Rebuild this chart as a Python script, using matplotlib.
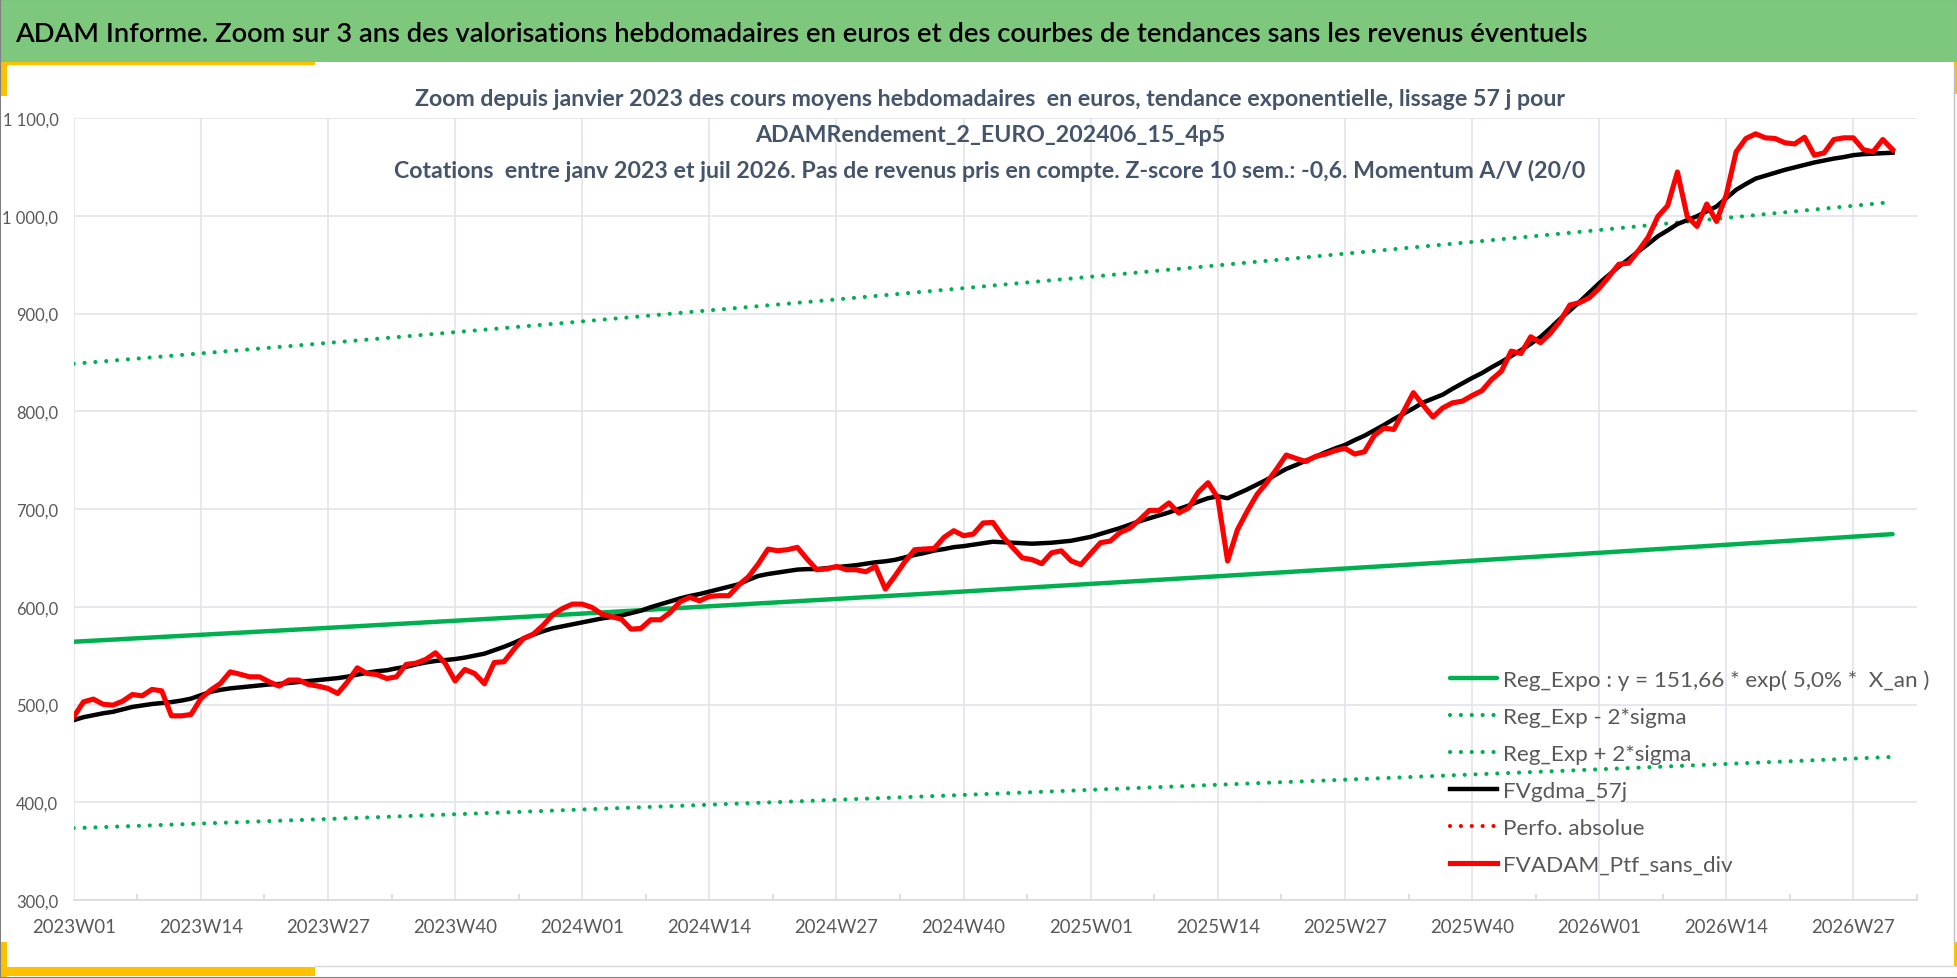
import matplotlib
matplotlib.use("Agg")
import matplotlib.pyplot as plt
from matplotlib import font_manager
from matplotlib.lines import Line2D
from matplotlib.patches import Rectangle

# ---------------- data ----------------
years_weeks = [(2023, 52), (2024, 52), (2025, 52), (2026, 31)]
weeks = [f"{y}W{w:02d}" for y, n in years_weeks for w in range(1, n + 1)]

tick_labels = ["2023W01", "2023W14", "2023W27", "2023W40", "2024W01", "2024W14",
               "2024W27", "2024W40", "2025W01", "2025W14", "2025W27", "2025W40",
               "2026W01", "2026W14", "2026W27"]

fvadam = [487.4, 502.7, 505.5, 500.3, 499.3, 503.4, 510.2, 508.9, 515.4, 514.0,
          488.4, 488.4, 489.8, 506.0, 514.7, 521.5, 533.4, 531.0, 528.3, 528.3,
          523.2, 518.8, 525.0, 525.0, 520.5, 518.8, 516.4, 511.3, 523.2, 537.5,
          531.7, 530.7, 526.6, 528.3, 541.0, 542.3, 546.1, 552.9, 542.0, 524.2,
          535.8, 531.7, 521.2, 543.0, 543.7, 556.3, 567.6, 572.0, 581.0, 592.0,
          598.3, 602.7, 602.7, 599.3, 592.5, 589.8, 587.4, 577.1, 577.8, 586.7,
          586.7, 594.2, 605.1, 609.6, 606.1, 610.6, 611.3, 611.3, 622.2, 630.7,
          643.7, 659.0, 657.3, 658.4, 660.8, 648.8, 637.9, 638.6, 641.3, 637.9,
          637.9, 635.8, 641.3, 618.1, 631.7, 646.1, 658.4, 659.0, 659.7, 671.0,
          677.8, 672.7, 674.4, 685.7, 686.3, 672.0, 660.8, 650.0, 648.2, 644.1,
          655.2, 657.2, 646.9, 643.1, 654.5, 665.5, 667.2, 675.9, 680.3, 689.0,
          698.6, 698.6, 706.2, 695.9, 701.0, 717.2, 726.9, 711.4, 646.9, 678.6,
          697.6, 714.8, 726.9, 740.7, 755.2, 751.7, 748.6, 753.8, 756.2, 759.7,
          762.1, 756.2, 758.6, 775.2, 782.8, 781.4, 800.0, 819.0, 806.2, 794.1,
          803.4, 808.6, 810.3, 816.0, 821.0, 832.5, 841.0, 861.5, 859.1, 876.2,
          870.1, 879.7, 892.3, 908.7, 911.1, 916.2, 925.8, 937.8, 950.4, 951.5,
          964.1, 977.8, 999.3, 1010.3, 1044.8, 999.3, 989.1, 1012.0, 994.2, 1021.5,
          1065.3, 1079.0, 1083.8, 1079.7, 1079.0, 1074.6, 1073.5, 1080.3, 1061.9, 1064.3,
          1078.0, 1079.7, 1079.7, 1067.7, 1065.3, 1078.0, 1067.7]

fvgdma = [484.0, 487.0, 489.0, 491.0, 492.5, 495.0, 497.5, 499.0, 500.5, 501.5,
          502.5, 504.0, 506.0, 509.5, 513.0, 515.0, 516.5, 517.5, 518.5, 519.5,
          520.5, 521.0, 522.0, 523.0, 524.0, 525.0, 526.0, 527.0, 528.5, 530.5,
          532.5, 534.0, 535.0, 537.0, 538.5, 541.0, 543.0, 544.5, 545.5, 546.5,
          548.0, 550.0, 552.0, 555.5, 559.0, 563.0, 567.5, 571.5, 575.0, 578.0,
          580.0, 582.0, 584.0, 586.0, 588.0, 589.5, 591.0, 593.5, 596.0, 599.5,
          602.5, 605.5, 608.5, 611.0, 613.0, 615.5, 618.0, 620.5, 623.0, 627.5,
          631.5, 633.5, 635.0, 636.5, 638.0, 638.5, 638.5, 639.5, 640.5, 641.5,
          642.5, 644.0, 645.5, 646.5, 648.0, 650.5, 653.0, 655.0, 657.5, 659.0,
          661.0, 662.0, 663.5, 665.0, 666.5, 666.0, 665.5, 665.0, 664.5, 665.0,
          665.5, 666.5, 667.5, 669.5, 671.5, 674.5, 677.5, 680.5, 684.0, 687.5,
          690.5, 693.5, 696.5, 700.0, 703.5, 707.5, 711.0, 713.0, 711.0, 715.5,
          720.0, 725.0, 730.0, 735.5, 741.0, 745.0, 749.5, 753.5, 758.0, 762.0,
          765.5, 770.5, 775.0, 780.5, 786.0, 792.0, 797.5, 803.0, 809.0, 813.0,
          817.0, 823.0, 828.5, 834.0, 839.0, 845.0, 850.5, 856.5, 862.5, 869.0,
          876.0, 885.0, 894.5, 903.0, 912.0, 921.5, 931.0, 939.5, 948.0, 955.5,
          963.5, 971.0, 979.0, 985.0, 991.5, 995.5, 999.5, 1004.5, 1009.5, 1018.0,
          1026.5, 1032.5, 1038.0, 1041.0, 1044.0, 1047.0, 1049.5, 1052.0, 1054.5, 1056.5,
          1058.5, 1060.0, 1062.0, 1063.0, 1063.5, 1064.0, 1064.5]

trend_weeks = tick_labels + ["2026W31"]
reg_expo = [564.2, 571.3, 578.4, 585.7, 593.0, 600.5, 608.0, 615.6, 623.4, 631.2,
            639.1, 647.1, 655.2, 663.4, 671.7, 674.3]
reg_plus = [848.6, 859.2, 869.9, 880.9, 891.9, 903.2, 914.4, 925.9, 937.6, 949.3,
            961.2, 973.2, 985.4, 997.8, 1010.2, 1014.1]
reg_minus = [373.5, 378.2, 382.9, 387.7, 392.6, 397.5, 402.5, 407.5, 412.7, 417.9,
             423.1, 428.4, 433.7, 439.2, 444.7, 446.4]

y_ticks = [300, 400, 500, 600, 700, 800, 900, 1000, 1100]

header_text = ("ADAM Informe. Zoom sur 3 ans des valorisations hebdomadaires en euros "
               "et des courbes de tendances sans les revenus éventuels")
title_lines = [
    "Zoom depuis janvier 2023 des cours moyens hebdomadaires  en euros, tendance exponentielle, lissage 57 j pour",
    "ADAMRendement_2_EURO_202406_15_4p5",
    "Cotations  entre janv 2023 et juil 2026. Pas de revenus pris en compte. Z-score 10 sem.: -0,6. Momentum A/V (20/0",
]
legend_labels = ["Reg_Expo : y = 151,66 * exp( 5,0% *  X_an )", "Reg_Exp - 2*sigma",
                 "Reg_Exp + 2*sigma", "FVgdma_57j", "Perfo. absolue", "FVADAM_Ptf_sans_div"]

# ---------------- style ----------------
names = {f.name for f in font_manager.fontManager.ttflist}
if "Liberation Sans Narrow" in names:
    FONT = "Liberation Sans Narrow"
    k = 1.0
else:
    FONT = "Lato"
    k = 0.88
plt.rcParams["font.family"] = [FONT, "DejaVu Sans"]

W, H = 1958, 979
fig = plt.figure(figsize=(W / 100, H / 100), dpi=100)
fig.patch.set_facecolor("white")

def fx(px):
    return px / W

def fy(py):
    return 1 - py / H

# header band
fig.patches.append(Rectangle((0, fy(63)), 1, 63 / H, transform=fig.transFigure,
                             facecolor="#7ec87e", edgecolor="none", zorder=0))
fig.text(fx(15), fy(35), header_text, fontsize=22.4 * k, color="black",
         fontweight="semibold", ha="left", va="center")

# decorative yellow accents and borders
yellow = "#ffc000"
for (x0, y0, w, h) in [(0, 63, 315, 3), (0, 63, 7, 34), (1954, 63, 4, 32),
                       (0, 943, 7, 36), (0, 968, 315, 9), (1954, 943, 4, 24)]:
    fig.patches.append(Rectangle((fx(x0), fy(y0 + h)), w / W, h / H,
                                 transform=fig.transFigure, facecolor=yellow,
                                 edgecolor="none", zorder=1))
fig.lines.append(Line2D([fx(315), 1], [fy(967), fy(967)], transform=fig.transFigure,
                        color="#d9d9d9", lw=1))
fig.lines.append(Line2D([fx(1954), fx(1954)], [fy(66), fy(943)], transform=fig.transFigure,
                        color="#bfbfbf", lw=1))
fig.patches.append(Rectangle((0, 0), 1, 1, transform=fig.transFigure, facecolor="none",
                             edgecolor="#808080", lw=1.5, zorder=5))

# axes
ax = fig.add_axes([fx(73.7), fy(901), fx(1917) - fx(73.7), (901 - 119) / H])
ax.set_facecolor("none")
x = list(range(len(weeks)))
tx = [weeks.index(w) for w in trend_weeks]

green = "#00b050"
dot = (0, (0.01, 2.6))
l1, = ax.plot(tx, reg_expo, color=green, lw=3.2, solid_capstyle="round", zorder=3)
l2, = ax.plot(tx, reg_minus, color=green, lw=3.0, linestyle=dot, dash_capstyle="round", zorder=3)
l3, = ax.plot(tx, reg_plus, color=green, lw=3.0, linestyle=dot, dash_capstyle="round", zorder=3)
l4, = ax.plot(x, fvgdma, color="black", lw=3.2, solid_joinstyle="round", zorder=4)
l5, = ax.plot([], [], color="#ff0000", lw=3.0, linestyle=dot, dash_capstyle="round")
l6, = ax.plot(x, fvadam, color="#ff0000", lw=3.7, solid_joinstyle="round", zorder=5)

ax.set_xlim(0, len(weeks) - 1)
ax.set_ylim(300, 1100)
ax.set_yticks(y_ticks)
ax.set_yticklabels([f"{v:,.1f}".replace(",", " ").replace(".", ",") for v in y_ticks])
ax.set_xticks([weeks.index(t) for t in tick_labels])
ax.set_xticklabels(tick_labels)
ax.set_xticks([weeks.index(t) + 6.5 for t in tick_labels], minor=True)

grid_c = "#dfe2e8"
ax.grid(True, which="major", color=grid_c, lw=1.1)
ax.set_axisbelow(True)
for s in ["top", "right", "left"]:
    ax.spines[s].set_visible(False)
ax.spines["bottom"].set_color("#d9d9d9")
ax.spines["bottom"].set_linewidth(1.2)
ax.tick_params(axis="y", length=0, pad=11, labelsize=13.5 * k, labelcolor="#595959")
ax.tick_params(axis="x", which="major", length=0, pad=13, labelsize=15.2 * k, labelcolor="#595959")
ax.tick_params(axis="x", which="minor", length=4, direction="in", color="#d9d9d9", width=1.2)

# chart title (overlaps the plot area like the original)
for line, yy in zip(title_lines, [99, 135, 171]):
    fig.text(fx(990), fy(yy), line, fontsize=18.9 * k, fontweight="bold",
             color="#44546a", ha="center", va="center", zorder=6)

leg = ax.legend([l1, l2, l3, l4, l5, l6], legend_labels, loc="upper left",
                bbox_to_anchor=(fx(1450), fy(670)), bbox_transform=fig.transFigure,
                frameon=False, fontsize=18.4 * k, handlelength=2.1, handletextpad=0.25,
                labelspacing=0.76, borderpad=0, borderaxespad=0)
for t in leg.get_texts():
    t.set_color("#595959")

fig.savefig("out.png", dpi=100, facecolor="white")
